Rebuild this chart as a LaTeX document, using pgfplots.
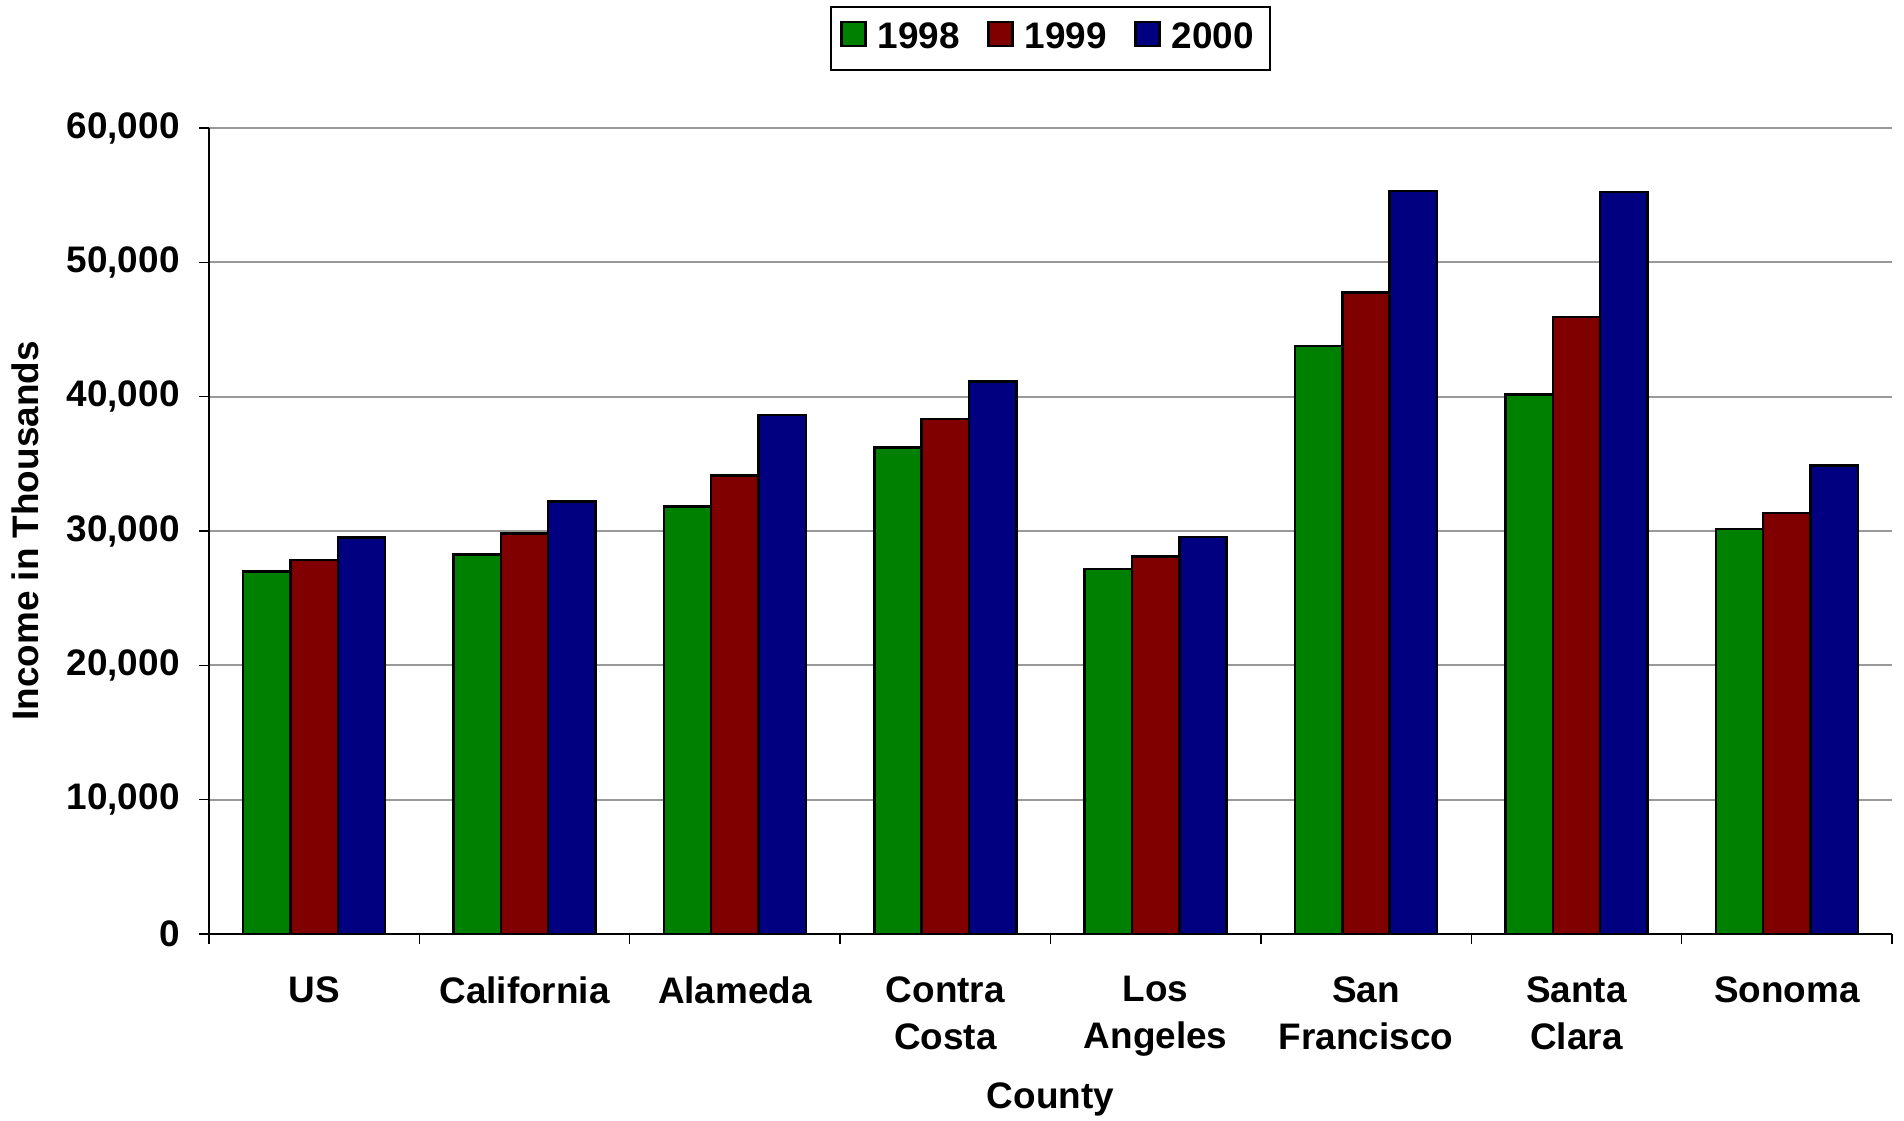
\documentclass[border=0pt]{standalone}
\usepackage{fontspec}
\setmainfont{Liberation Sans}
\usepackage{pgfplots}
\pgfplotsset{compat=1.18}
\definecolor{cgreen}{RGB}{0,128,0}
\definecolor{cred}{RGB}{128,0,0}
\definecolor{cblue}{RGB}{0,0,128}
\newcommand{\lblfont}{\fontsize{10.5}{13.4}\selectfont\bfseries}
\begin{document}
\begin{tikzpicture}
\path[use as bounding box] (-20.9mm,-18.7mm) rectangle (169.5mm,93.4mm);
\begin{axis}[
  at={(0,0)}, anchor=south west,
  scale only axis, width=168.3mm, height=80.6mm,
  ybar, bar width=0.225,
  xmin=-0.5, xmax=7.5, ymin=0, ymax=60000,
  axis x line*=bottom, axis y line*=left,
  scaled y ticks=false,
  xtick={0,1,2,3,4,5,6,7},
  xticklabels={US,California,Alameda,{Contra\\Costa},{Los\\Angeles},{San\\Francisco},{Santa\\Clara},Sonoma},
  major x tick style={draw=none},
  minor xtick={-0.5,0.5,1.5,2.5,3.5,4.5,5.5,6.5,7.5},
  minor tick length=1mm, major tick length=1mm,
  tick align=outside,
  ytick={0,10000,20000,30000,40000,50000,60000},
  yticklabels={0,{10,000},{20,000},{30,000},{40,000},{50,000},{60,000}},
  ymajorgrids, grid style={gray!80, line width=0.5pt},
  axis line style={black, line width=0.5pt},
  tick style={black, line width=0.4pt},
  ticklabel style={font=\lblfont},
  xticklabel style={align=center, yshift=-2mm},
  yticklabel style={xshift=-0.7mm},
  xlabel={County}, ylabel={Income in Thousands},
  xlabel style={font=\lblfont, at={(axis description cs:0.5,0)}, anchor=north, inner sep=0pt, yshift=-14.8mm},
  ylabel style={font=\lblfont, at={([xshift=-16.9mm]axis description cs:0,0.5)}, anchor=south, inner sep=0pt},
  legend columns=3,
  legend style={at={(0.5,1.151)}, anchor=north, draw=black, line width=0.5pt,
    font=\lblfont, inner sep=2.5pt,
    /tikz/every odd column/.append style={column sep=0.4mm},
    /tikz/every even column/.append style={column sep=2mm}},
  legend image code/.code={\draw[#1, line width=0.8pt] (0mm,-0.75mm) rectangle (2.4mm,1.65mm);},
]
\addplot[fill=cgreen, draw=black, line width=0.7pt, bar shift=-0.225] coordinates {
  (0,26970) (1,28260) (2,31830) (3,36220) (4,27190) (5,43780) (6,40170) (7,30150)};
\addplot[fill=cred, draw=black, line width=0.7pt, bar shift=0] coordinates {
  (0,27840) (1,29830) (2,34130) (3,38330) (4,28110) (5,47740) (6,45920) (7,31320)};
\addplot[fill=cblue, draw=black, line width=0.7pt, bar shift=0.225] coordinates {
  (0,29500) (1,32180) (2,38630) (3,41120) (4,29550) (5,55320) (6,55220) (7,34890)};
\legend{1998,1999,2000}
\end{axis}
\end{tikzpicture}
\end{document}
